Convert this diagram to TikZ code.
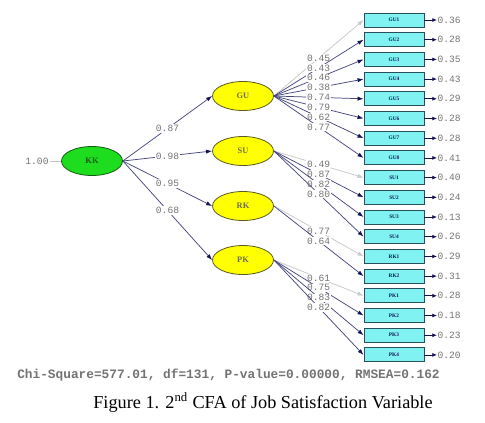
\documentclass[tikz,border=0pt]{standalone}
\usepackage{fontspec}
\setmainfont{Liberation Serif}
\newfontfamily\monofnt{Liberation Mono}
\usetikzlibrary{shapes.geometric,arrows.meta}
\definecolor{boxfill}{RGB}{128,242,242}
\definecolor{boxdraw}{RGB}{40,80,90}
\definecolor{latfill}{RGB}{255,255,0}
\definecolor{latdraw}{RGB}{90,90,30}
\definecolor{kkfill}{RGB}{30,220,30}
\definecolor{kkdraw}{RGB}{20,90,20}
\definecolor{linecol}{RGB}{70,70,125}
\definecolor{headcol}{RGB}{20,20,85}
\definecolor{fixcol}{RGB}{200,200,205}
\definecolor{numcol}{RGB}{115,115,115}
\definecolor{lattext}{RGB}{110,110,60}
\begin{document}
\begin{tikzpicture}[x=0.75pt,y=-0.75pt,
  obs/.style={rectangle,draw=boxdraw,line width=0.7pt,fill=boxfill,minimum width=45pt,minimum height=10.5pt,inner sep=0pt,
    font=\fontsize{4}{4}\selectfont\bfseries,text=headcol},
  lat/.style={ellipse,draw=latdraw,line width=0.6pt,fill=latfill,minimum width=45.75pt,minimum height=21.75pt,inner sep=0pt,
    font=\fontsize{6.3}{7}\selectfont\bfseries,text=lattext},
  latkk/.style={lat,fill=kkfill,draw=kkdraw,text=kkdraw},
  numlbl/.style={font=\monofnt\fontsize{7.2}{8}\selectfont,text=numcol,fill=white,inner sep=0.6pt},
  loadfree/.style={draw=linecol,line width=0.55pt,-{Latex[length=4.5pt,width=3.2pt,color=headcol]}},
  loadfix/.style={draw=fixcol,line width=0.55pt,-{Latex[length=4.5pt,width=3.2pt,color=fixcol]}},
  errline/.style={draw=headcol,line width=0.6pt,-{Latex[length=3.5pt,width=3pt,color=headcol]}},
  oneline/.style={draw=fixcol,line width=0.5pt}]
\useasboundingbox (0,0) rectangle (485,422);
\fill[white] (0,0) rectangle (485,422);
% latent variables
\node[latkk] (KK) at (92,161) {KK};
\node[lat] (GU) at (243,96) {GU};
\node[lat] (SU) at (243,151) {SU};
\node[lat] (RK) at (243,206) {RK};
\node[lat] (PK) at (243,260) {PK};
\node[numlbl] (one) at (37,161) {1.00};
\draw[oneline] (one) -- (KK);
\foreach \f/\v in {GU/0.87,SU/0.98,RK/0.95,PK/0.68}
  \draw[loadfree] (KK.east) -- node[numlbl]{\v} (\f.west);
% observed variables
\foreach \n/\e [count=\i] in {GU1/0.36,GU2/0.28,GU3/0.35,GU4/0.43,GU5/0.29,GU6/0.28,GU7/0.28,GU8/0.41,
  SU1/0.40,SU2/0.24,SU3/0.13,SU4/0.26,RK1/0.29,RK2/0.31,PK1/0.28,PK2/0.18,PK3/0.23,PK4/0.20}{
  \pgfmathsetmacro\yy{20+19.7*(\i-1)}
  \node[obs] (\n) at (394,\yy) {\n};
  \node[numlbl,anchor=west,inner sep=0.3pt] (\n v) at (437,\yy) {\e};
  \draw[errline] (\n.east) -- (\n v.west);
}
% loadings
\foreach \f/\n/\l/\s in {GU/GU1/0.45/loadfix,GU/GU2/0.43/loadfree,GU/GU3/0.46/loadfree,GU/GU4/0.38/loadfree,
  GU/GU5/0.74/loadfree,GU/GU6/0.79/loadfree,GU/GU7/0.62/loadfree,GU/GU8/0.77/loadfree,
  SU/SU1/0.49/loadfix,SU/SU2/0.87/loadfree,SU/SU3/0.82/loadfree,SU/SU4/0.80/loadfree,
  RK/RK1/0.77/loadfix,RK/RK2/0.64/loadfree,
  PK/PK1/0.61/loadfix,PK/PK2/0.75/loadfree,PK/PK3/0.83/loadfree,PK/PK4/0.82/loadfree}
  \draw[\s] (\f.east) -- node[numlbl]{\l} (\n.west);
% fit line and caption
\node[anchor=west,font=\monofnt\fontsize{9.6}{11}\selectfont\bfseries,text=numcol,inner sep=0pt] (fit) at (17,375)
  {Chi-Square=577.01, df=131, P-value=0.00000, RMSEA=0.162};
\node[font=\fontsize{13.7}{15}\selectfont,inner sep=0pt] (cap) at (263,403)
  {Figure 1. 2\textsuperscript{nd} CFA of Job Satisfaction Variable};
\end{tikzpicture}
\end{document}
